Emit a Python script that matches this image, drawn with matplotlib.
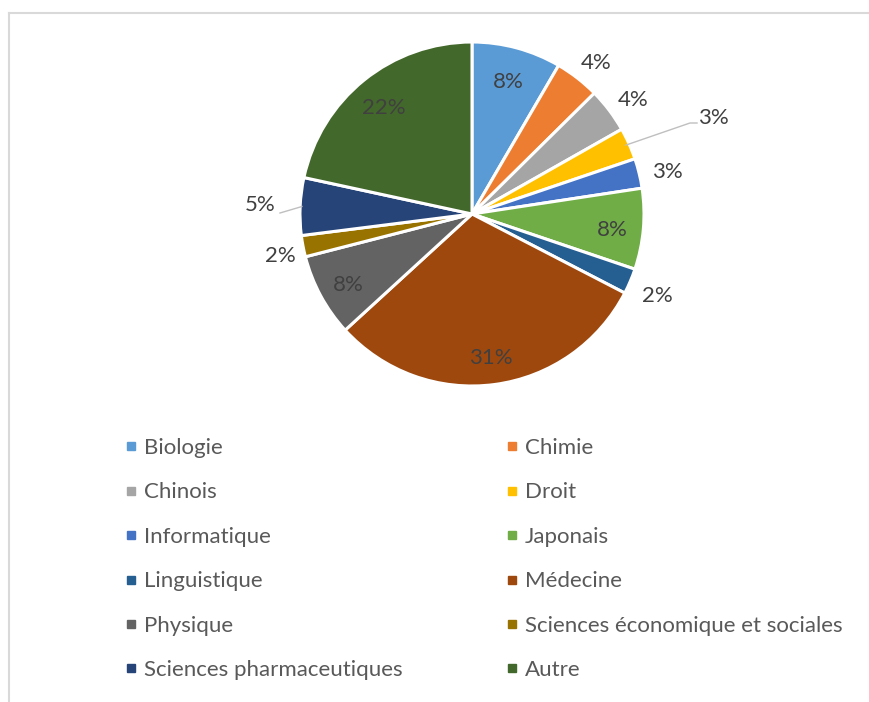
import matplotlib
matplotlib.use("Agg")
import matplotlib.pyplot as plt
from matplotlib.lines import Line2D
import numpy as np

plt.rcParams['font.family'] = ['Lato', 'DejaVu Sans']

categories = ["Biologie", "Chimie", "Chinois", "Droit", "Informatique", "Japonais",
              "Linguistique", "Médecine", "Physique", "Sciences économique et sociales",
              "Sciences pharmaceutiques", "Autre"]
values = [8.4, 4.2, 4.2, 3.0, 2.8, 7.6, 2.4, 30.6, 7.8, 2.0, 5.4, 21.6]
colors = ["#5B9BD5", "#ED7D31", "#A5A5A5", "#FFC000", "#4472C4", "#70AD47",
          "#255E91", "#9E480E", "#636363", "#997300", "#264478", "#43682B"]

W, H = 870, 702
fig = plt.figure(figsize=(W / 100, H / 100), dpi=100)
ax = fig.add_axes([0, 0, 1, 1])
ax.set_xlim(0, W)
ax.set_ylim(0, H)
ax.axis('off')

cx, cy, R = 472, H - 214, 172
wedges, _ = ax.pie(values, colors=colors, startangle=90, counterclock=False,
                   center=(cx, cy), radius=R, frame=False,
                   wedgeprops=dict(edgecolor='white', linewidth=2.2))
ax.set_xlim(0, W)
ax.set_ylim(0, H)

txt_col = '#404040'
fs = 16
total = sum(values)
for i, (w, v) in enumerate(zip(wedges, values)):
    mid = np.deg2rad((w.theta1 + w.theta2) / 2)
    lab = '%.0f%%' % (v / total * 100)
    if v >= 7:
        r = 0.82 * R
        ax.text(cx + r * np.cos(mid), cy + r * np.sin(mid) - 4, lab, ha='center', va='center',
                fontsize=fs, color=txt_col)
    elif categories[i] == "Droit":
        x0, y0 = cx + R * 0.98 * np.cos(mid), cy + R * 0.98 * np.sin(mid)
        ax.plot([x0, 690, 697], [y0, H - 123, H - 123], color='#BFBFBF', lw=1)
        ax.text(698, H - 118, lab, ha='left', va='center', fontsize=fs, color=txt_col)
    elif categories[i] == "Sciences pharmaceutiques":
        x0, y0 = cx + R * 0.99 * np.cos(mid), cy + R * 0.99 * np.sin(mid)
        ax.plot([x0, 280], [y0, H - 213], color='#BFBFBF', lw=1)
        ax.text(276, H - 205, lab, ha='right', va='center', fontsize=fs, color=txt_col)
    else:
        r = 1.15 * R
        ax.text(cx + r * np.cos(mid) + 3, cy + r * np.sin(mid) - 5, lab, ha='center', va='center',
                fontsize=fs, color=txt_col)

# frame lines (partially visible chart border)
fig.add_artist(Line2D([9 / W, 1], [1 - 13 / H, 1 - 13 / H], color='#D9D9D9', lw=1.5,
                      transform=fig.transFigure))
fig.add_artist(Line2D([9 / W, 9 / W], [0, 1 - 13 / H], color='#D9D9D9', lw=1.5,
                      transform=fig.transFigure))

handles = [Line2D([], [], marker='s', linestyle='none', markersize=6,
                  markerfacecolor=c, markeredgecolor=c) for c in colors]
order = [0, 2, 4, 6, 8, 10, 1, 3, 5, 7, 9, 11]
leg = fig.legend([handles[i] for i in order], [categories[i] for i in order],
                 ncol=2, loc='upper left', bbox_to_anchor=(125 / W, 1 - 438 / H),
                 frameon=False, fontsize=fs, labelcolor='#595959',
                 handlelength=0.5, handletextpad=0.35, labelspacing=1.1,
                 columnspacing=4.67, borderpad=0, borderaxespad=0)

fig.savefig("out.png", dpi=100, facecolor='white')
